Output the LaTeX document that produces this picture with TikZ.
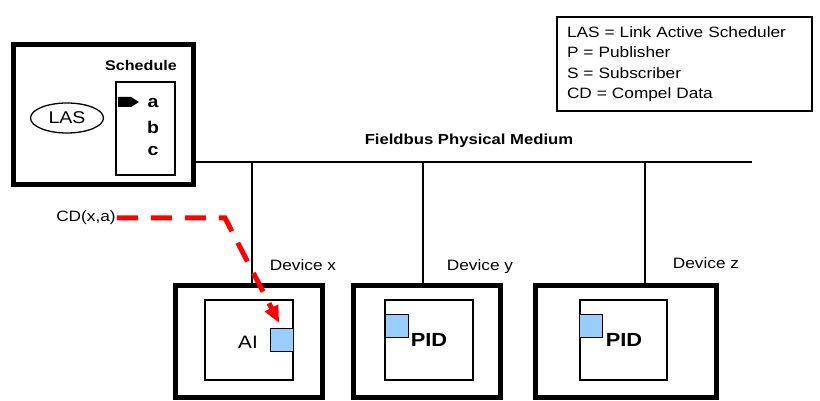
\documentclass[tikz,border=0pt]{standalone}
\usepackage{fontspec}
\setmainfont{Liberation Sans}[FakeStretch=1.15]
\usetikzlibrary{arrows.meta,shapes.geometric}
\definecolor{portblue}{HTML}{99CCFF}
\definecolor{cdred}{HTML}{FF0000}

\begin{document}
\begin{tikzpicture}[x=1pt,y=-1pt,
  thickbox/.style={draw, line width=5pt, inner sep=0pt},
  thinbox/.style={draw, line width=1.3pt, inner sep=0pt},
  port/.style={draw, line width=1pt, fill=portblue, minimum size=23pt, inner sep=0pt},
  lbl/.style={font=\fontsize{15}{18}\selectfont},
  bus/.style={line width=1.6pt},
  cdline/.style={draw=cdred, line width=5pt, dash pattern=on 21pt off 13pt, -{Triangle[length=17pt,width=14pt]}}]
\useasboundingbox (0,0) rectangle (820,401);

% schedule box with LAS
\node[thickbox, minimum width=180pt, minimum height=140pt] (sched) at (103,115) {};
\node[thinbox, minimum width=59pt, minimum height=93pt] (slots) at (145.5,128.5) {};
\node[lbl, font=\fontsize{14}{16}\selectfont\bfseries] (schedlbl) at (141,65) {Schedule};
\node[draw, ellipse, line width=1.3pt, minimum width=73pt, minimum height=30pt, inner sep=0pt, font=\fontsize{17}{18}\selectfont] (las) at (67,118) {LAS};
\node[font=\fontsize{17}{18}\selectfont\bfseries] (sa) at (153,103) {a};
\node[font=\fontsize{17}{18}\selectfont\bfseries] (sb) at (153,127) {b};
\node[font=\fontsize{17}{18}\selectfont\bfseries] (sc) at (153,151) {c};
\fill (118,97) -- (131,97) -- (139,102) -- (131,107) -- (118,107) -- cycle;

% legend
\node[draw, line width=1.5pt, text width=235pt, align=left, inner xsep=10pt, minimum height=94pt, font=\fontsize{15}{20.5}\selectfont] (legend) at (684.5,64) {LAS = Link Active Scheduler\\P = Publisher\\S = Subscriber\\CD = Compel Data};

% bus
\coordinate (busL) at (193,162);
\coordinate (busR) at (752,162);
\draw[bus] (busL) -- (busR);
\node[lbl, font=\fontsize{14.5}{16}\selectfont\bfseries] (buslbl) at (469,141) {Fieldbus Physical Medium};

% devices
\node[thickbox, minimum width=147pt, minimum height=112pt] (devx) at (248.5,341) {};
\node[thickbox, minimum width=147pt, minimum height=112pt] (devy) at (426.5,341) {};
\node[thickbox, minimum width=181pt, minimum height=112pt] (devz) at (625.5,341) {};
\node[thinbox, minimum width=88pt, minimum height=80pt] (blkx) at (249,340) {};
\node[thinbox, minimum width=88pt, minimum height=80pt] (blky) at (429,340) {};
\node[thinbox, minimum width=87pt, minimum height=80pt] (blkz) at (623.5,340) {};
\node[port] (portx) at (281.5,339.5) {};
\node[port] (porty) at (396.5,325.5) {};
\node[port] (portz) at (591,325.5) {};
\node[font=\fontsize{18}{18}\selectfont] (ai) at (248,342) {AI};
\node[font=\fontsize{19}{20}\selectfont\bfseries] (pidy) at (429,340) {PID};
\node[font=\fontsize{19}{20}\selectfont\bfseries] (pidz) at (624,340) {PID};
\node[lbl] (devxlbl) at (303,265) {Device x};
\node[lbl] (devylbl) at (480,267) {Device y};
\node[lbl] (devzlbl) at (706,263) {Device z};

% taps
\coordinate (tapx) at (252,162);
\coordinate (tapy) at (423,162);
\coordinate (tapz) at (645,162);
\draw[bus] (tapx) -- (tapx |- devx.north);
\draw[bus] (tapy) -- (tapy |- devy.north);
\draw[bus] (tapz) -- (tapz |- devz.north);

% compel data
\node[lbl, inner sep=1pt] (cd) at (86,218) {CD(x,a)};
\coordinate (bend) at (225,218);
\draw[cdline, shorten >=5pt] (cd.east) -- (bend) -- (portx.north);
\end{tikzpicture}
\end{document}
